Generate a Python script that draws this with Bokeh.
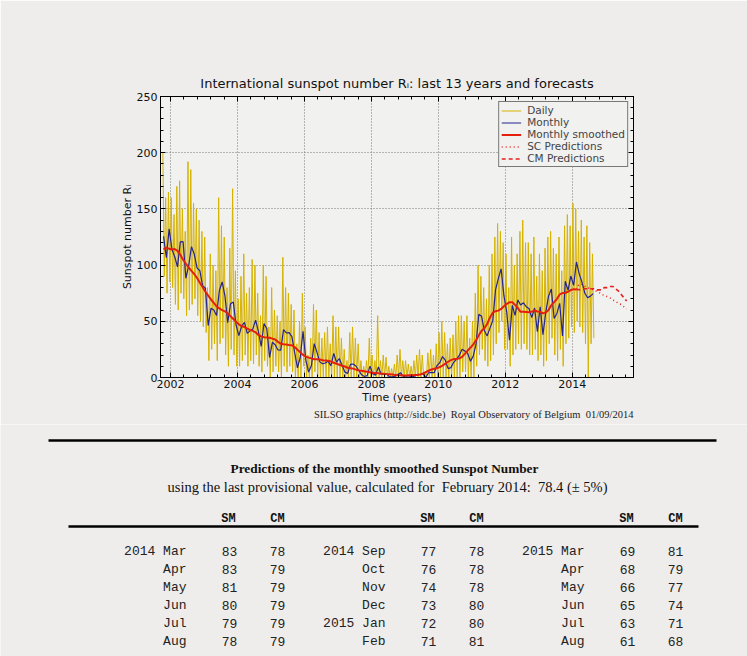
from bokeh.plotting import figure
from bokeh.models import (Range1d, LinearAxis, SingleIntervalTicker, Legend,
                          LegendItem, Title, ColumnDataSource)
from bokeh.embed import file_html
from bokeh.resources import INLINE
from bokeh.core.properties import value

# ---------------- data ----------------
START_YEAR, START_MONTH = 2001, 10   # first month shown: Oct 2001

monthly = [
    125.5, 106.5, 132.2,
    114.1, 107.4, 98.4, 120.7, 120.8, 88.3, 99.6, 116.4, 109.6, 97.5, 95.0, 81.6,
    79.5, 46.2, 61.5, 60.0, 55.2, 77.4, 85.0, 72.7, 48.8, 65.6, 67.2, 46.5,
    37.3, 45.8, 49.1, 39.3, 41.5, 43.2, 51.1, 40.9, 27.7, 48.0, 43.5, 17.9,
    31.3, 29.2, 24.5, 24.4, 42.6, 39.6, 39.9, 36.4, 22.1, 8.5, 18.0, 41.2,
    15.3, 4.9, 10.6, 30.2, 22.3, 13.9, 12.2, 12.9, 14.4, 10.5, 21.4, 13.6,
    16.9, 10.6, 4.8, 3.7, 11.7, 12.0, 10.0, 6.2, 2.4, 0.9, 1.7, 10.1,
    3.3, 2.1, 9.3, 2.9, 2.9, 3.1, 0.5, 0.5, 1.1, 2.9, 4.1, 0.8,
    1.5, 1.4, 0.7, 1.2, 2.9, 2.6, 3.5, 0.0, 4.2, 4.6, 4.2, 10.6,
    13.1, 18.6, 15.4, 7.9, 8.8, 13.5, 16.1, 19.6, 25.2, 23.5, 21.6, 14.4,
    19.0, 29.4, 56.2, 54.4, 41.6, 37.0, 43.9, 50.6, 78.0, 88.0, 96.7, 73.0,
    58.3, 33.1, 64.2, 55.2, 69.0, 64.5, 66.5, 63.0, 61.4, 53.3, 61.8, 40.8,
    62.9, 38.1, 57.9, 72.4, 78.7, 52.5, 57.0, 66.0, 37.0, 85.6, 77.6, 90.3,
    82.0, 102.8, 92.2, 84.7, 75.2, 71.0, 72.4, 74.6,
]

smoothed = [
    114.0, 115.5, 114.6,
    113.9, 114.3, 112.6, 109.2, 104.8, 101.2, 98.0, 94.9, 92.1, 88.5, 84.3, 80.5,
    76.3, 72.8, 69.4, 66.4, 63.3, 61.4, 60.0, 58.9, 57.0, 54.6, 52.0, 49.6,
    47.3, 45.8, 44.9, 43.5, 42.4, 41.5, 40.2, 37.9, 36.6, 35.8, 35.5, 35.4,
    34.6, 33.8, 31.7, 30.1, 29.6, 29.4, 28.9, 28.6, 27.1, 24.7, 22.4, 20.1,
    18.6, 17.7, 17.0, 16.2, 16.3, 16.1, 15.3, 15.2, 14.9, 14.2, 13.1, 12.3,
    11.3, 10.4, 9.8, 8.6, 8.3, 7.9, 7.0, 6.3, 6.0, 5.6, 5.1, 4.6,
    4.1, 4.0, 3.7, 3.4, 3.3, 3.0, 2.8, 2.6, 2.3, 2.0, 1.9, 1.7,
    1.8, 1.9, 2.0, 2.2, 2.3, 2.7, 3.6, 4.8, 6.0, 7.1, 7.7, 8.3,
    9.3, 10.6, 12.3, 14.0, 15.5, 16.4, 16.5, 17.0, 18.4, 21.0, 24.0, 26.4,
    29.4, 33.0, 37.6, 41.5, 43.8, 47.6, 53.3, 57.7, 59.0, 59.5, 61.0, 63.4,
    65.5, 66.9, 66.9, 64.6, 61.8, 58.4, 58.5, 58.3, 58.1, 58.6, 59.6, 58.7,
    58.4, 57.0, 57.9, 60.1, 64.3, 67.0, 69.8, 73.9, 75.1, 75.4, 76.3, 77.8,
    78.6, 78.4,
]

# per-month highest and lowest daily values
daily_hi = [
    200, 160, 165,
    160, 145, 170, 175, 150, 130, 192, 185, 155, 150, 140, 130,
    125, 80, 110, 100, 95, 160, 135, 125, 80, 115, 168, 95,
    70, 90, 110, 75, 80, 105, 100, 75, 55, 100, 90, 45,
    80, 60, 55, 50, 107, 80, 75, 65, 60, 30, 50, 75,
    45, 20, 35, 65, 60, 40, 35, 40, 45, 30, 55, 45,
    45, 35, 25, 15, 40, 45, 35, 30, 15, 10, 15, 35,
    20, 15, 55, 15, 20, 18, 10, 8, 12, 20, 25, 15,
    15, 12, 10, 15, 20, 25, 20, 5, 22, 25, 20, 30,
    40, 50, 40, 30, 35, 38, 50, 55, 55, 50, 55, 35,
    50, 75, 100, 90, 80, 70, 100, 110, 125, 137, 130, 120,
    110, 80, 125, 100, 110, 130, 140, 120, 120, 110, 125, 90,
    110, 95, 115, 125, 130, 115, 110, 125, 95, 135, 145, 135,
    155, 150, 130, 140, 125, 135, 120, 110,
]
daily_lo = [
    90, 75, 85,
    80, 65, 60, 75, 70, 55, 60, 65, 70, 55, 50, 45,
    40, 15, 25, 30, 15, 30, 35, 20, 10, 25, 20, 10,
    10, 15, 20, 10, 15, 12, 20, 10, 5, 15, 10, 0,
    5, 10, 5, 0, 10, 5, 10, 5, 0, 0, 0, 10,
    0, 0, 0, 5, 0, 0, 0, 0, 0, 0, 0, 0,
    0, 0, 0, 0, 0, 0, 0, 0, 0, 0, 0, 0,
    0, 0, 0, 0, 0, 0, 0, 0, 0, 0, 0, 0,
    0, 0, 0, 0, 0, 0, 0, 0, 0, 0, 0, 0,
    0, 0, 0, 0, 0, 0, 0, 0, 5, 5, 0, 0,
    0, 10, 20, 25, 15, 10, 15, 20, 30, 40, 50, 25,
    25, 10, 20, 25, 30, 25, 30, 25, 20, 20, 25, 15,
    20, 10, 15, 30, 35, 20, 15, 25, 10, 30, 35, 45,
    40, 50, 45, 40, 30, 0, 30, 35,
]

# predictions table (Mar 2014 .. Aug 2015)
PRED_YEAR, PRED_MONTH = 2014, 3
pred_labels = ["2014 Mar", "Apr", "May", "Jun", "Jul", "Aug",
               "2014 Sep", "Oct", "Nov", "Dec", "2015 Jan", "Feb",
               "2015 Mar", "Apr", "May", "Jun", "Jul", "Aug"]
sm_pred = [83, 83, 81, 80, 79, 78, 77, 76, 74, 73, 72, 71, 69, 68, 66, 65, 63, 61]
cm_pred = [78, 79, 79, 79, 79, 79, 78, 78, 78, 80, 80, 81, 81, 79, 77, 74, 71, 68]
last_smoothed = 78.4   # February 2014

# ---------------- helpers ----------------
def month_x(i, frac=0.5, y0=START_YEAR, m0=START_MONTH):
    return y0 + (m0 - 1 + i + frac) / 12.0

BG = "#eeedeb"
PLOT_BG = "#f1f1ef"
FONT = "DejaVu Sans"
SERIF = "Liberation Serif"
MONO = "Liberation Mono"
NB = "\u00a0"

W = 747
H1 = 424
H2 = 656 - H1

# ---------------- chart ----------------
p = figure(width=W, height=H1,
           x_range=Range1d(2001.70, 2015.83), y_range=Range1d(0, 250),
           output_backend="svg", toolbar_location=None,
           min_border_left=160, min_border_right=114,
           min_border_top=96, min_border_bottom=H1 - 377,
           background_fill_color=PLOT_BG, border_fill_color=BG,
           outline_line_color="black", outline_line_width=1)

p.title.text = "International sunspot number R\u1d62: last 13 years and forecasts"
p.title.align = "center"
p.title.text_font = FONT
p.title.text_font_size = "13px"
p.title.text_font_style = "normal"
p.title.text_color = "#111111"
p.title.standoff = 12

xa = p.xaxis[0]
ya = p.yaxis[0]
xa.ticker = SingleIntervalTicker(interval=2, num_minor_ticks=5)
ya.ticker = SingleIntervalTicker(interval=50, num_minor_ticks=5)
xa.axis_label = "Time (years)"
ya.axis_label = "Sunspot number R\u1d62"
for ax in (xa, ya):
    ax.major_tick_in = 5
    ax.major_tick_out = 0
    ax.minor_tick_in = 3
    ax.minor_tick_out = 0
    ax.major_label_text_font = FONT
    ax.major_label_text_font_size = "11px"
    ax.major_label_text_color = "#111111"
    ax.axis_label_text_font = FONT
    ax.axis_label_text_font_size = "11px"
    ax.axis_label_text_font_style = "normal"
    ax.axis_label_text_color = "#111111"
    ax.axis_line_color = "black"
    ax.major_tick_line_color = "black"
    ax.minor_tick_line_color = "black"
xa.major_label_standoff = 2
xa.axis_label_standoff = 0
ya.major_label_standoff = 3
ya.axis_label_standoff = 0

for loc, tick in (("above", SingleIntervalTicker(interval=2, num_minor_ticks=5)),
                  ("right", SingleIntervalTicker(interval=50, num_minor_ticks=5))):
    ax = LinearAxis(ticker=tick, major_label_text_color=None,
                    major_label_standoff=0, major_tick_in=5, major_tick_out=0,
                    minor_tick_in=3, minor_tick_out=0, axis_line_color="black")
    p.add_layout(ax, loc)

p.xgrid.grid_line_color = "#777777"
p.ygrid.grid_line_color = "#777777"
p.xgrid.grid_line_dash = "1 2"
p.ygrid.grid_line_dash = "1 2"

# daily: one high and one low per month
dx, dy = [], []
for i, (h, l) in enumerate(zip(daily_hi, daily_lo)):
    dx += [month_x(i, 0.25), month_x(i, 0.75)]
    dy += [h, l]
r_daily = p.line(dx, dy, line_color="#d6b200", line_width=1)

mx = [month_x(i) for i in range(len(monthly))]
r_month = p.line(mx, monthly, line_color="#24248f", line_width=1.2)

sx = [month_x(i) for i in range(len(smoothed))]
r_smooth = p.line(sx, smoothed, line_color="#e4200c", line_width=2)

px = [month_x(-1, y0=PRED_YEAR, m0=PRED_MONTH)] + \
     [month_x(i, y0=PRED_YEAR, m0=PRED_MONTH) for i in range(len(sm_pred))]
r_sc = p.line(px, [last_smoothed] + sm_pred, line_color="#e42020",
              line_width=1.6, line_dash="1 3")
r_cm = p.line(px, [last_smoothed] + cm_pred, line_color="#e42020",
              line_width=1.6, line_dash="4 3")

legend = Legend(items=[LegendItem(label="Daily", renderers=[r_daily]),
                       LegendItem(label="Monthly", renderers=[r_month]),
                       LegendItem(label="Monthly smoothed", renderers=[r_smooth]),
                       LegendItem(label="SC Predictions", renderers=[r_sc]),
                       LegendItem(label="CM Predictions", renderers=[r_cm])],
                location="top_right", margin=5, padding=2, spacing=0,
                label_text_font=FONT, label_text_font_size="10.5px",
                label_height=9, glyph_height=9, glyph_width=20,
                label_standoff=6, border_line_color="black",
                background_fill_color=PLOT_BG, background_fill_alpha=1)
p.add_layout(legend)

credit = Title(text="SILSO graphics (http://sidc.be)" + NB * 2 + "Royal Observatory of Belgium"
               + NB * 2 + "01/09/2014",
               align="right", text_font=SERIF, text_font_size="10.5px",
               text_font_style="normal", text_color="#222222", standoff=0)
p.add_layout(credit, "below")

# ---------------- predictions table ----------------
t = figure(width=W, height=H2, x_range=Range1d(0, W), y_range=Range1d(H2, 0),
           output_backend="svg", toolbar_location=None, min_border=0,
           min_border_left=0, min_border_right=0, min_border_top=0, min_border_bottom=0,
           x_axis_type=None, y_axis_type=None,
           background_fill_color=BG, border_fill_color=BG, outline_line_color=None)
t.grid.visible = False

Y0 = H1   # page y of the table's top
t.line([48, 716], [440 - Y0] * 2, line_color="black", line_width=2.5)
t.text(x=[384], y=[468 - Y0], text=["Predictions of the monthly smoothed Sunspot Number"],
       text_font=value(SERIF), text_font_size="13.3px", text_font_style="bold",
       text_align="center", text_baseline="middle", text_color="#111111")
t.text(x=[387], y=[486 - Y0],
       text=["using the last provisional value, calculated for" + NB * 2 + "February 2014:"
             + NB * 2 + "78.4 (\u00b1 5%)"],
       text_font=value(SERIF), text_font_size="14.5px",
       text_align="center", text_baseline="middle", text_color="#111111")

GROUP_DX = 199
n_groups = 3
hx, ht = [], []
for g in range(n_groups):
    hx += [228 + g * GROUP_DX, 277 + g * GROUP_DX]
    ht += ["SM", "CM"]
t.text(x=hx, y=[518 - Y0] * len(hx), text=ht, text_font=value(MONO), text_font_size="12px",
       text_font_style="bold", text_align="center", text_baseline="middle",
       text_color="#111111")
t.line([68, 698], [526 - Y0] * 2, line_color="black", line_width=2.5)

rows = 6
src = ColumnDataSource(dict(
    lx=[186 + (i // rows) * GROUP_DX for i in range(len(pred_labels))],
    smx=[229 + (i // rows) * GROUP_DX for i in range(len(pred_labels))],
    cmx=[277 + (i // rows) * GROUP_DX for i in range(len(pred_labels))],
    y=[551 - Y0 + (i % rows) * 18 for i in range(len(pred_labels))],
    lab=pred_labels,
    sm=[str(v) for v in sm_pred],
    cm=[str(v) for v in cm_pred],
))
common = dict(source=src, text_font=value(MONO), text_font_size="13px",
              text_baseline="middle", text_color="#222222")
t.text(x="lx", y="y", text="lab", text_align="right", **common)
t.text(x="smx", y="y", text="sm", text_align="center", **common)
t.text(x="cmx", y="y", text="cm", text_align="center", **common)

open("out.html", "w").write(file_html([p, t], INLINE))
